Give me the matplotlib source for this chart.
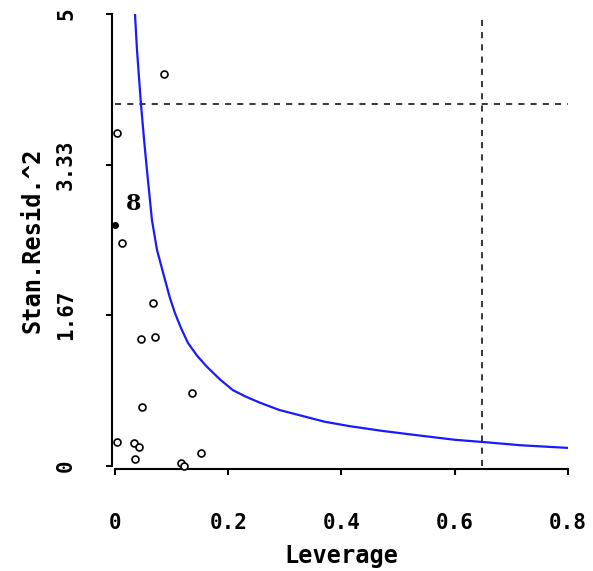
import numpy as np
import matplotlib
matplotlib.use("Agg")
import matplotlib.pyplot as plt

# observations (leverage, squared standardized residual)
lev = [0.0865, 0.0035, 0.0124, 0.067, 0.046, 0.0706, 0.0477, 0.136,
       0.0035, 0.0336, 0.042, 0.0353, 0.152, 0.117, 0.122]
res2 = [4.34, 3.68, 2.47, 1.80, 1.40, 1.43, 0.65, 0.81,
        0.27, 0.25, 0.21, 0.077, 0.14, 0.033, 0.0]

# highlighted observation
lev_hi = [0.0]
res2_hi = [2.67]
hi_label = "8"

# contour curve
curve_x = [0.0353, 0.0389, 0.0459, 0.0515, 0.0565, 0.0653, 0.0742, 0.0883,
           0.097, 0.106, 0.117, 0.129, 0.145, 0.162, 0.185, 0.208, 0.23,
           0.256, 0.29, 0.327, 0.37, 0.415, 0.47, 0.521, 0.60, 0.66,
           0.715, 0.80]
curve_y = [5.0, 4.60, 4.00, 3.60, 3.27, 2.72, 2.39, 2.06,
           1.86, 1.69, 1.52, 1.36, 1.22, 1.10, 0.96, 0.84, 0.77,
           0.70, 0.62, 0.56, 0.49, 0.44, 0.39, 0.35, 0.29, 0.26,
           0.23, 0.20]

# cut-off lines
h_cut = 4.0
lev_cut = 0.648

xticks = [0, 0.2, 0.4, 0.6, 0.8]
xtick_labels = ["0", "0.2", "0.4", "0.6", "0.8"]
yticks = [0, 1.67, 3.33, 5]
ytick_labels = ["0", "1.67", "3.33", "5"]

fig = plt.figure(figsize=(5.93, 5.71), dpi=100)
ax = fig.add_axes([0.1939, 0.1839, 0.7639, 0.7916])

ax.plot(curve_x, curve_y, color="#1a1aff", lw=1.6, zorder=3)
ax.axhline(h_cut, color="black", lw=1.1, ls=(0, (4, 4)), zorder=2)
ax.axvline(lev_cut, color="black", lw=1.1, ls=(0, (4, 4)), zorder=2)

ax.plot(lev, res2, "o", mfc="white", mec="black", ms=5, mew=1.2,
        ls="none", zorder=4, clip_on=False)
ax.plot(lev_hi, res2_hi, "o", color="black", ms=4, ls="none", zorder=4,
        clip_on=False)
ax.text(lev_hi[0] + 0.033, res2_hi[0] + 0.23, hi_label, fontsize=16,
        fontweight="bold", family="DejaVu Serif", ha="center", va="center")

ax.set_xlim(0, 0.8)
ax.set_ylim(0, 5)

for side in ["top", "right"]:
    ax.spines[side].set_visible(False)
ax.spines["left"].set_position(("outward", 2))
ax.spines["bottom"].set_position(("outward", 2))
ax.spines["left"].set_linewidth(1.5)
ax.spines["bottom"].set_linewidth(1.5)

ax.set_xticks(xticks)
ax.set_xticklabels(xtick_labels, family="DejaVu Sans Mono",
                   fontweight="bold", fontsize=15)
ax.set_yticks(yticks)
ax.set_yticklabels(ytick_labels, family="DejaVu Sans Mono",
                   fontweight="bold", fontsize=15, rotation=90, va="center")
ax.tick_params(axis="both", length=4, width=1.5, direction="out")
ax.tick_params(axis="x", pad=28)
ax.tick_params(axis="y", pad=22)

ax.set_xlabel("Leverage", family="DejaVu Sans Mono", fontsize=17,
              fontweight="bold", labelpad=8)
ax.set_ylabel("Stan.Resid.^2", family="DejaVu Sans Mono", fontsize=17,
              fontweight="bold", labelpad=8)

fig.savefig("out.png", dpi=100)
